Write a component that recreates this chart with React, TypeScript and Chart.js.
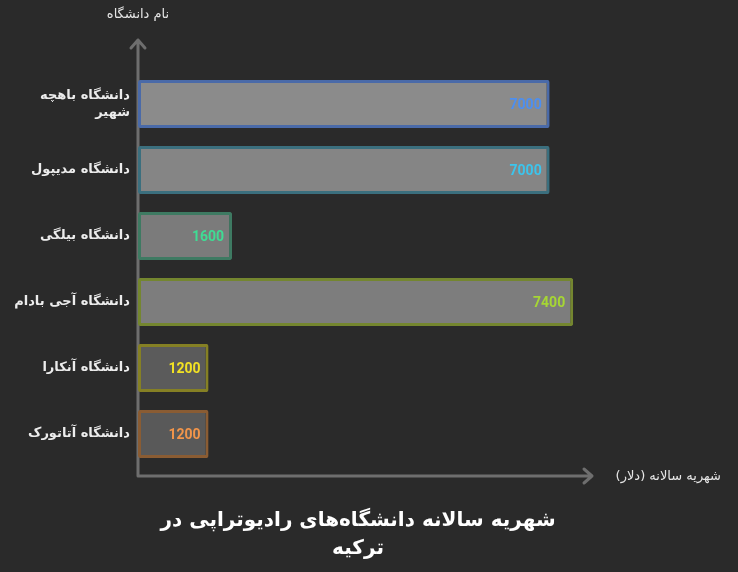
import { useEffect, useRef } from 'react'
import { Chart, registerables } from 'chart.js'

Chart.register(...registerables)

const universities: (string | string[])[] = [
  ['دانشگاه باهچه', 'شهیر'],
  'دانشگاه مدیپول',
  'دانشگاه بیلگی',
  'دانشگاه آجی بادام',
  'دانشگاه آنکارا',
  'دانشگاه آتاتورک',
]
const tuition = [7000, 7000, 1600, 7400, 1200, 1200]
const fillColors = ['#8b8b8b', '#858585', '#7b7b7b', '#7d7d7d', '#5b5b5b', '#595959']
const borderColors = ['#4a6aa8', '#3b6f7e', '#3e7a62', '#74862f', '#858024', '#8a5c33']
const labelColors = ['#4d8ff0', '#3cc4ec', '#3fdc94', '#a6d634', '#f2e224', '#f2954a']

const xTitle = 'شهریه سالانه (دلار)'
const yTitle = 'نام دانشگاه'
const chartTitle = ['شهریه سالانه دانشگاه‌های رادیوتراپی در', 'ترکیه']

const FONT = '"DejaVu Sans", "Noto Sans", sans-serif'
const AXIS = '#6e6e6e'

const decorPlugin = {
  id: 'decor',
  beforeDatasetsDraw(chart: Chart) {
    const { ctx, chartArea } = chart
    const x0 = chartArea.left
    const yBottom = chartArea.bottom + 9
    const yTop = 40
    const xRight = 592
    ctx.save()
    ctx.strokeStyle = AXIS
    ctx.lineWidth = 3
    ctx.lineCap = 'round'
    ctx.lineJoin = 'round'
    ctx.beginPath()
    ctx.moveTo(x0, yBottom)
    ctx.lineTo(x0, yTop)
    ctx.moveTo(x0 - 7, yTop + 8)
    ctx.lineTo(x0, yTop)
    ctx.lineTo(x0 + 7, yTop + 8)
    ctx.moveTo(x0, yBottom)
    ctx.lineTo(xRight, yBottom)
    ctx.moveTo(xRight - 8, yBottom - 7)
    ctx.lineTo(xRight, yBottom)
    ctx.lineTo(xRight - 8, yBottom + 7)
    ctx.stroke()
    ctx.restore()
  },
  afterDatasetsDraw(chart: Chart) {
    const { ctx } = chart
    const meta = chart.getDatasetMeta(0)
    ctx.save()
    ctx.font = `bold 14px Roboto, ${FONT}`
    ctx.textAlign = 'right'
    ctx.textBaseline = 'middle'
    meta.data.forEach((bar: any, i: number) => {
      ctx.fillStyle = labelColors[i]
      ctx.fillText(String(tuition[i]), bar.x - 8, bar.y + 1)
    })
    // axis titles
    ctx.fillStyle = '#e6e6e6'
    ctx.font = `13px ${FONT}`
    ctx.textAlign = 'center'
    ctx.fillText(yTitle, chart.chartArea.left, 15)
    ctx.direction = 'rtl'
    ctx.textAlign = 'right'
    ctx.fillText(xTitle, 721, chart.chartArea.bottom + 10)
    ctx.direction = 'ltr'
    // chart title
    ctx.font = `bold 20px ${FONT}`
    ctx.fillStyle = '#ffffff'
    ctx.textAlign = 'center'
    ctx.fillText(chartTitle[0], 358, 521)
    ctx.fillText(chartTitle[1], 358, 549)
    ctx.restore()
  },
}

export default function App() {
  const canvasRef = useRef<HTMLCanvasElement>(null)

  useEffect(() => {
    document.body.style.margin = '0'
    document.body.style.background = '#2a2a2a'
    if (!canvasRef.current) return
    const chart = new Chart(canvasRef.current, {
      type: 'bar',
      data: {
        labels: universities,
        datasets: [
          {
            data: tuition,
            backgroundColor: fillColors,
            borderColor: borderColors,
            borderWidth: 3,
            borderSkipped: false,
            borderRadius: 2,
            barPercentage: 0.73,
            categoryPercentage: 1,
          },
        ],
      },
      options: {
        indexAxis: 'y',
        responsive: false,
        animation: false,
        layout: { padding: { top: 71, bottom: 105, left: 0, right: 146 } },
        plugins: {
          legend: { display: false },
          tooltip: { enabled: false },
        },
        scales: {
          x: {
            display: false,
            min: 0,
            max: 7720,
          },
          y: {
            grid: { display: false, drawTicks: false },
            border: { display: false },
            afterFit: (scale: any) => {
              scale.width = 138
            },
            ticks: {
              color: '#ececec',
              padding: 8,
              font: { family: FONT, size: 13, weight: 'bold', lineHeight: 1.25 },
            },
          },
        },
      },
      plugins: [decorPlugin],
    } as any)
    return () => chart.destroy()
  }, [])

  return (
    <div style={{ width: 738, height: 572, background: '#2a2a2a' }}>
      <canvas ref={canvasRef} width={738} height={572} />
    </div>
  )
}
